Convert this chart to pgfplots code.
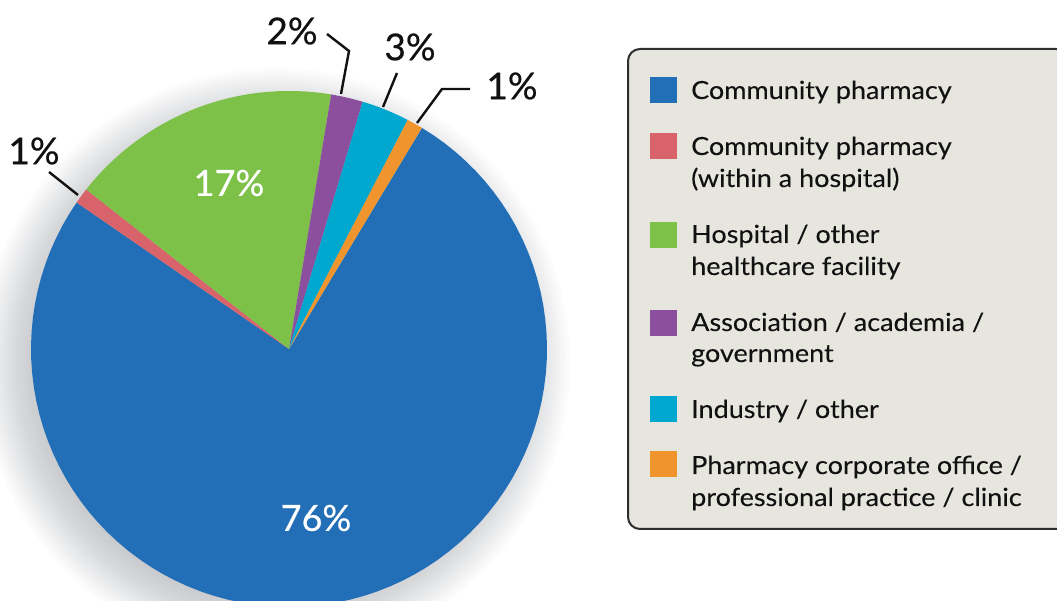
\documentclass[border=0pt]{standalone}
\usepackage{pgfplots}
\usepackage{pgfplotstable}
\pgfplotsset{compat=1.18}
\usepackage{fontspec}
\setmainfont{Lato}
\newfontfamily\legfont{Lato}[FakeStretch=1.08, FakeBold=0.15]
\newfontfamily\lblfont{Lato}[FakeBold=0.5]
\definecolor{cblue}{HTML}{226FB8}
\definecolor{cred}{HTML}{D9636B}
\definecolor{cgreen}{HTML}{7DC149}
\definecolor{cpurple}{HTML}{8B4F9E}
\definecolor{ccyan}{HTML}{00A7CE}
\definecolor{corange}{HTML}{F0952D}
\definecolor{legbg}{HTML}{E7E6DE}
\definecolor{legborder}{HTML}{2E2E2E}
\definecolor{lbl}{HTML}{111111}
\definecolor{shadowc}{HTML}{1A2230}

% shares in percent: community pharmacy, community pharmacy (hospital),
% hospital/other, association, industry, corporate office
\pgfplotstableread{
name value
community 76
cphosp 1
hospital 17
assoc 2
industry 3
corporate 1
}\piedata

\newcommand\slice[3]{%
  \addplot[draw=none, fill=#3, domain=#1:#2, samples=90]
    ({289+258*cos(x)}, {252+258*sin(x)}) -- (289,252) -- cycle;}

\begin{document}
\begin{tikzpicture}
\pgfplotstablegetelem{0}{value}\of\piedata\let\vA\pgfplotsretval
\pgfplotstablegetelem{1}{value}\of\piedata\let\vB\pgfplotsretval
\pgfplotstablegetelem{2}{value}\of\piedata\let\vC\pgfplotsretval
\pgfplotstablegetelem{3}{value}\of\piedata\let\vD\pgfplotsretval
\pgfplotstablegetelem{4}{value}\of\piedata\let\vE\pgfplotsretval
\pgfplotstablegetelem{5}{value}\of\piedata\let\vF\pgfplotsretval
\pgfmathsetmacro\aA{59}
\pgfmathsetmacro\aB{\aA-3.6*\vA}
\pgfmathsetmacro\aC{\aB-3.6*\vB}
\pgfmathsetmacro\aD{\aC-3.6*\vC}
\pgfmathsetmacro\aE{\aD-3.6*\vD}
\pgfmathsetmacro\aF{\aE-3.6*\vE}
\pgfmathsetmacro\aG{\aF-3.6*\vF}
\useasboundingbox (0,0) rectangle (1057pt,601pt);
\clip (0,0) rectangle (1057pt,601pt);
\begin{axis}[
  x=1pt, y=1pt, xmin=0, xmax=1057, ymin=0, ymax=601,
  at={(0,0)}, anchor=south west, hide axis, clip=false,
]
% soft shadow, offset down and left
\pgfplotsinvokeforeach{240,242.5,...,295}{
  \fill[shadowc, opacity=0.012] (axis cs:275,238) circle[radius=#1pt];
}
\slice{\aB}{\aA}{cblue}
\slice{\aC}{\aB}{cred}
\slice{\aD}{\aC}{cgreen}
\slice{\aE}{\aD}{cpurple}
\slice{\aF}{\aE}{ccyan}
\slice{\aG}{\aF}{corange}

% inside labels
\node[white, font=\lblfont\fontsize{36}{40}\selectfont, inner sep=0] at (axis cs:229,418) {17\%};
\node[white, font=\lblfont\fontsize{36}{40}\selectfont, inner sep=0] at (axis cs:316,83) {76\%};

% outside labels with leader lines
\begin{scope}[lbl, line width=2.4pt]
\draw (axis cs:327,567) -- (axis cs:349,550) -- (axis cs:341,507);
\draw (axis cs:397,528) -- (axis cs:383,494);
\draw (axis cs:470,512) -- (axis cs:442,512) -- (axis cs:417,478);
\draw (axis cs:49,429) -- (axis cs:78,406);
\end{scope}
\node[lbl, font=\lblfont\fontsize{37}{40}\selectfont, inner sep=0] at (axis cs:292,570) {2\%};
\node[lbl, font=\lblfont\fontsize{37}{40}\selectfont, inner sep=0] at (axis cs:410,554) {3\%};
\node[lbl, font=\lblfont\fontsize{37}{40}\selectfont, inner sep=0] at (axis cs:512,515) {1\%};
\node[lbl, font=\lblfont\fontsize{37}{40}\selectfont, inner sep=0] at (axis cs:34,450) {1\%};

% legend
\draw[legborder, fill=legbg, line width=2pt, rounded corners=12pt]
  (axis cs:628,552) rectangle (axis cs:1068,72);
\fill[cblue]   (axis cs:650,498) rectangle (axis cs:677,524);
\fill[cred]    (axis cs:650,442) rectangle (axis cs:677,468);
\fill[cgreen]  (axis cs:650,353) rectangle (axis cs:677,379);
\fill[cpurple] (axis cs:650,265) rectangle (axis cs:677,291);
\fill[ccyan]   (axis cs:650,179) rectangle (axis cs:677,205);
\fill[corange] (axis cs:650,124) rectangle (axis cs:677,150);
\begin{scope}[every node/.style={anchor=base west, inner sep=0, lbl, font=\legfont\fontsize{25}{32}\selectfont}]
\node at (axis cs:691,502) {Community pharmacy};
\node at (axis cs:691,446) {Community pharmacy};
\node at (axis cs:691,414) {(within a hospital)};
\node at (axis cs:691,358) {Hospital / other};
\node at (axis cs:691,326) {healthcare facility};
\node at (axis cs:691,270) {Association / academia /};
\node at (axis cs:691,239) {government};
\node at (axis cs:691,183) {Industry / other};
\node at (axis cs:691,127) {Pharmacy corporate office /};
\node at (axis cs:691,95)  {professional practice / clinic};
\end{scope}
\end{axis}
\end{tikzpicture}
\end{document}
